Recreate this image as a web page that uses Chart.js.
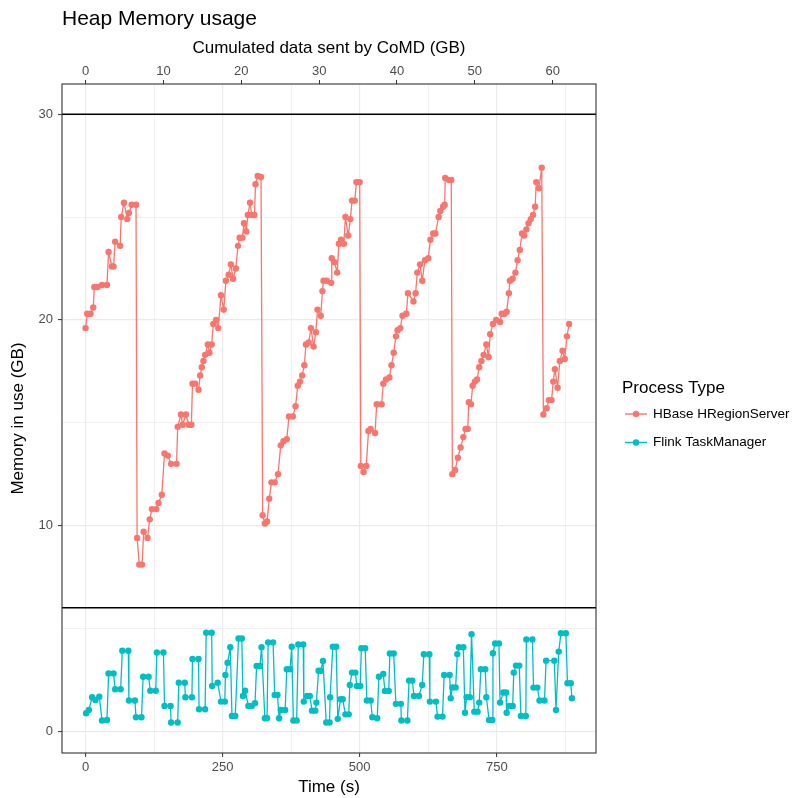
<!DOCTYPE html>
<html>
<head>
<meta charset="utf-8">
<title>Heap Memory usage</title>
<script src="https://cdn.jsdelivr.net/npm/chart.js@4.4.1/dist/chart.umd.min.js"></script>
<style>
html, body { margin: 0; padding: 0; background: #fff; }
canvas { display: block; }
</style>
</head>
<body>
<canvas id="chart" width="793" height="798"></canvas>
<script>
// Время (с) и память (ГБ) для HBase HRegionServer
const hbaseTime = [0, 3, 9, 14, 16, 22, 30, 39, 42, 48, 51, 54, 63, 65, 70, 76, 79, 84, 92,
    94, 98, 103, 106, 113, 117, 121, 129, 133, 139, 144, 150, 156, 166, 168, 174, 177, 183, 188, 193,
    195, 200, 206, 209, 212, 215, 218, 223, 226, 230, 233, 238, 242, 247, 252, 256, 261, 265, 269, 274,
    278, 281, 286, 289, 293, 296, 300, 303, 308, 310, 314, 320,
    323, 327, 331, 335, 339, 345, 351, 356, 361, 367, 371, 378, 383, 387, 391, 395, 399, 402, 407, 411,
    416, 420, 423, 429, 432, 434, 440, 448, 449, 454, 459, 462, 466, 471, 474, 479, 483, 486, 491, 494, 500,
    502, 507, 512, 516, 520, 528, 531, 540, 543, 548, 554, 558, 562, 566, 569, 574, 578, 585, 588, 598,
    602, 605, 610, 614, 619, 625, 629, 634, 638, 644, 647, 652, 655, 656, 663, 667,
    669, 674, 679, 684, 689, 693, 697, 699, 703, 706, 710, 714, 718, 722, 726, 731, 735, 738, 743, 749,
    756, 759, 764, 768, 772, 774, 779, 784, 788, 792, 796, 800, 804, 808, 812, 816, 820, 822, 827, 832,
    835, 841, 845, 850, 853, 856, 861, 865, 870, 874, 878, 882];
const hbaseMem = [19.6, 20.3, 20.3, 20.6, 21.6, 21.6, 21.7, 21.7, 23.3, 22.6, 22.6, 23.8, 23.6, 25.0, 25.7, 24.9, 25.2, 25.6, 25.6,
    9.4, 8.1, 8.1, 9.7, 9.4, 10.3, 10.8, 10.8, 11.1, 11.5, 13.5, 13.4, 13.0, 13.0, 14.8, 15.4, 14.9, 15.4, 14.9, 14.9,
    16.9, 16.9, 16.6, 17.3, 17.7, 18.0, 18.3, 18.8, 18.4, 18.8, 19.8, 20.0, 19.6, 21.2, 20.5, 21.9, 22.2, 22.7, 22.0, 22.5,
    23.6, 24.0, 24.0, 24.7, 24.3, 25.1, 25.7, 25.1, 25.1, 26.6, 27.0, 26.95,
    10.5, 10.1, 10.2, 11.3, 12.1, 12.1, 12.5, 13.9, 14.1, 14.2, 15.3, 15.3, 15.8, 16.8, 17.0, 17.3, 17.8, 18.8, 18.9, 19.6,
    18.7, 19.4, 20.5, 20.2, 21.4, 21.9, 21.9, 21.8, 23.0, 22.8, 22.3, 23.7, 23.9, 23.7, 25.0, 24.1, 24.9, 25.8, 25.8, 26.7, 26.7,
    12.9, 12.6, 12.9, 14.6, 14.7, 14.5, 15.9, 15.9, 16.9, 17.1, 17.2, 17.8, 18.4, 19.2, 19.5, 19.6, 20.2, 20.3, 21.3, 20.9,
    21.3, 22.3, 22.7, 21.9, 22.9, 23.0, 23.9, 24.2, 24.2, 25.0, 25.3, 25.5, 25.6, 26.9, 26.8, 26.8,
    12.5, 12.7, 13.3, 13.8, 14.3, 14.7, 14.7, 16.0, 15.9, 16.8, 17.0, 17.1, 17.7, 18.0, 18.3, 18.8, 18.2, 19.3, 19.8, 20.0,
    19.9, 20.3, 20.3, 20.4, 21.3, 21.9, 22.0, 22.3, 22.9, 23.4, 24.2, 24.1, 24.4, 24.7, 24.9, 25.1, 25.5, 26.7, 26.4, 27.4,
    15.4, 15.7, 16.1, 16.1, 17.0, 17.6, 16.7, 18.0, 18.5, 18.1, 19.2, 19.8];

// Время (с) и память (ГБ) для Flink TaskManager
const flinkTime = [1, 6, 12, 18, 25, 30, 39, 42, 51, 54, 64, 67, 78, 79, 90, 92, 102, 105, 115, 118, 128,
    130, 142, 144, 155, 156, 168, 170, 181, 182, 194, 195, 206, 207, 218, 220, 230, 231, 241, 247, 254,
    255, 259, 264, 267, 273, 279, 285, 287, 291, 297, 303, 309, 312, 318, 321, 327, 331, 333, 342, 345,
    350, 353, 356, 364, 367, 373, 376, 379, 385, 388, 397, 398, 404, 409, 413, 419, 421, 425, 429, 433,
    439, 445, 446, 451, 457, 460, 465, 469, 474, 480, 482, 486, 492, 495, 501, 503, 510, 513, 520, 523,
    532, 535, 543, 546, 553, 555, 562, 566, 575, 576, 587, 590, 596, 599, 608, 614, 617, 627, 628, 639,
    642, 651, 654, 664, 666, 669, 675, 678, 681, 689, 692, 695, 701, 704, 709, 715, 718, 721, 729, 731,
    736, 742, 743, 747, 754, 756, 762, 767, 768, 773, 779, 781, 785, 791, 794, 803, 804, 815, 817, 824,
    828, 837, 840, 855, 858, 863, 867, 876, 879, 885, 887];
const flinkMem = [0.87, 1.03, 1.65, 1.52, 1.68, 0.52, 0.55, 2.81, 2.81, 2.04, 2.04, 3.91, 3.91, 1.49, 1.49, 0.68, 0.68, 2.65, 2.65, 1.97, 1.97,
    3.83, 3.83, 1.23, 1.23, 0.42, 0.42, 2.36, 2.36, 1.65, 1.65, 3.51, 3.51, 1.07, 1.07, 4.79, 4.79, 2.2, 2.36, 1.44, 1.44,
    2.73, 3.33, 4.08, 0.74, 0.74, 4.51, 4.51, 1.71, 1.97, 1.23, 1.23, 1.36, 3.17, 3.17, 4.08, 0.63, 0.63, 4.32, 4.32, 1.76,
    1.76, 0.63, 1.03, 1.03, 3.01, 3.01, 4.11, 0.52, 0.52, 4.22, 4.22, 1.44, 1.71, 1.71, 1.0, 1.0, 1.39, 2.94, 2.94, 3.41,
    0.42, 0.42, 1.65, 4.11, 4.11, 0.6, 1.55, 1.55, 0.82, 0.82, 2.25, 2.85, 2.85, 2.2, 2.2, 4.03, 4.03, 1.49, 1.49, 0.68,
    0.63, 2.65, 2.78, 1.96, 1.96, 3.78, 3.78, 1.33, 1.33, 0.52, 0.52, 2.46, 2.46, 1.71, 1.71, 2.25, 3.74, 3.74, 1.44, 1.44,
    0.71, 0.71, 2.73, 2.73, 1.6, 2.13, 2.13, 3.75, 4.08, 4.08, 0.9, 1.65, 1.65, 4.72, 0.95, 0.95, 1.39, 3.01, 3.01, 1.65,
    0.55, 0.55, 3.79, 4.27, 4.27, 1.39, 1.88, 1.88, 0.9, 1.23, 1.23, 2.85, 3.19, 3.19, 0.74, 0.74, 4.46, 4.46, 2.12, 2.12,
    1.49, 1.49, 3.43, 3.43, 1.03, 3.87, 4.76, 4.76, 2.33, 2.33, 1.6];

const seriesNames = ['HBase HRegionServer', 'Flink TaskManager'];
const seriesColors = ['#F8766D', '#00BFC4'];
const refLines = [30, 6]; // Чёрные горизонтальные линии

const timeTicks = [0, 250, 500, 750];
const timeMinor = [125, 375, 625, 875];
const memTicks = [0, 10, 20, 30];
const memMinor = [5, 15, 25];
const gbTicks = [0, 10, 20, 30, 40, 50, 60];

const chartTitle = 'Heap Memory usage';
const legendTitle = 'Process Type';

const X_MIN = -43, X_MAX = 931;
const Y_MIN = -1.06, Y_MAX = 31.47;
const SEC_PER_GB = 14.2;

const FONT = "'Liberation Sans', Arial, Helvetica, sans-serif";
const GRID = '#EBEBEB';
const DARK = '#333333';
const TICK_TEXT = '#4D4D4D';

Chart.defaults.font.family = FONT;

function ToPoints(xs, ys)
{
    return xs.map((x, i) => ({x: x, y: ys[i]}));
}

function SetTicks(values)
{
    return function (scale) {
        scale.ticks = values.slice().sort((a, b) => a - b).map(v => ({value: v}));
    };
}

function IsMajor(ctx, majors)
{
    return ctx.tick && majors.includes(ctx.tick.value);
}

const decorPlugin = {
    id: 'decor',
    afterDatasetsDraw(chart)
    {
        const {ctx, chartArea: a, scales} = chart;
        ctx.save();
        ctx.strokeStyle = '#000';
        ctx.lineWidth = 1.4;
        refLines.forEach(v => {
            const py = scales.y.getPixelForValue(v);
            ctx.beginPath();
            ctx.moveTo(a.left, py);
            ctx.lineTo(a.right, py);
            ctx.stroke();
        });
        ctx.restore();
    },
    afterDraw(chart)
    {
        const {ctx, chartArea: a} = chart;
        ctx.save();

        // Рамка панели
        ctx.strokeStyle = DARK;
        ctx.lineWidth = 1.1;
        ctx.strokeRect(a.left, a.top, a.right - a.left, a.bottom - a.top);

        // Заголовок
        ctx.fillStyle = '#000';
        ctx.font = '21px ' + FONT;
        ctx.textBaseline = 'alphabetic';
        ctx.textAlign = 'left';
        ctx.fillText(chartTitle, 62, 25);

        // Легенда
        ctx.font = '17px ' + FONT;
        ctx.textBaseline = 'middle';
        ctx.fillText(legendTitle, 622, 388);

        ctx.font = '13.5px ' + FONT;
        seriesNames.forEach((name, i) => {
            const ly = 414 + i * 28.5;
            ctx.strokeStyle = seriesColors[i];
            ctx.lineWidth = 1.4;
            ctx.beginPath();
            ctx.moveTo(625, ly);
            ctx.lineTo(647, ly);
            ctx.stroke();
            ctx.fillStyle = seriesColors[i];
            ctx.beginPath();
            ctx.arc(636, ly, 3.2, 0, Math.PI * 2);
            ctx.fill();
            ctx.fillStyle = '#000';
            ctx.fillText(name, 653, ly);
        });

        ctx.restore();
    }
};

function MakeDataset(i, xs, ys)
{
    return {
        label: seriesNames[i],
        data: ToPoints(xs, ys),
        borderColor: seriesColors[i],
        backgroundColor: seriesColors[i],
        pointBackgroundColor: seriesColors[i],
        pointBorderWidth: 0,
        pointRadius: 3.2,
        borderWidth: 1.3,
        tension: 0,
        fill: false
    };
}

new Chart(document.getElementById('chart'), {
    type: 'line',
    data: {
        datasets: [
            MakeDataset(0, hbaseTime, hbaseMem),
            MakeDataset(1, flinkTime, flinkMem)
        ]
    },
    options: {
        responsive: false,
        devicePixelRatio: 1,
        animation: false,
        events: [],
        layout: {padding: {left: 0, top: 0, right: 197, bottom: 0}},
        plugins: {
            legend: {display: false},
            tooltip: {enabled: false},
            title: {display: false}
        },
        scales: {
            x: {
                type: 'linear',
                position: 'bottom',
                min: X_MIN,
                max: X_MAX,
                afterBuildTicks: SetTicks(timeTicks.concat(timeMinor)),
                afterFit: s => { s.height = 45; },
                ticks: {
                    autoSkip: false,
                    maxRotation: 0,
                    padding: 3,
                    color: TICK_TEXT,
                    font: {size: 13},
                    callback: v => timeTicks.includes(v) ? String(v) : ''
                },
                grid: {
                    color: GRID,
                    lineWidth: ctx => IsMajor(ctx, timeTicks) ? 1.2 : 0.7,
                    tickColor: ctx => IsMajor(ctx, timeTicks) ? DARK : 'rgba(0,0,0,0)',
                    tickLength: 4,
                    tickWidth: 1
                },
                border: {display: false},
                title: {
                    display: true,
                    text: 'Time (s)',
                    color: '#000',
                    font: {size: 17},
                    padding: {top: 0, bottom: 0}
                }
            },
            x2: {
                type: 'linear',
                position: 'top',
                min: X_MIN / SEC_PER_GB,
                max: X_MAX / SEC_PER_GB,
                afterBuildTicks: SetTicks(gbTicks),
                afterFit: s => { s.height = 84; },
                ticks: {
                    autoSkip: false,
                    maxRotation: 0,
                    padding: 1,
                    color: TICK_TEXT,
                    font: {size: 13}
                },
                grid: {
                    drawOnChartArea: false,
                    tickColor: DARK,
                    tickLength: 4,
                    tickWidth: 1
                },
                border: {display: false},
                title: {
                    display: true,
                    text: 'Cumulated data sent by CoMD (GB)',
                    color: '#000',
                    font: {size: 17},
                    padding: {top: 38, bottom: 0}
                }
            },
            y: {
                type: 'linear',
                position: 'left',
                min: Y_MIN,
                max: Y_MAX,
                afterBuildTicks: SetTicks(memTicks.concat(memMinor)),
                afterFit: s => { s.width = 62; },
                ticks: {
                    autoSkip: false,
                    padding: 5,
                    color: TICK_TEXT,
                    font: {size: 13},
                    callback: v => memTicks.includes(v) ? String(v) : ''
                },
                grid: {
                    color: GRID,
                    lineWidth: ctx => IsMajor(ctx, memTicks) ? 1.2 : 0.7,
                    tickColor: ctx => IsMajor(ctx, memTicks) ? DARK : 'rgba(0,0,0,0)',
                    tickLength: 4,
                    tickWidth: 1
                },
                border: {display: false},
                title: {
                    display: true,
                    text: 'Memory in use (GB)',
                    color: '#000',
                    font: {size: 17},
                    padding: {top: 8, bottom: 0}
                }
            }
        }
    },
    plugins: [decorPlugin]
});
</script>
</body>
</html>
